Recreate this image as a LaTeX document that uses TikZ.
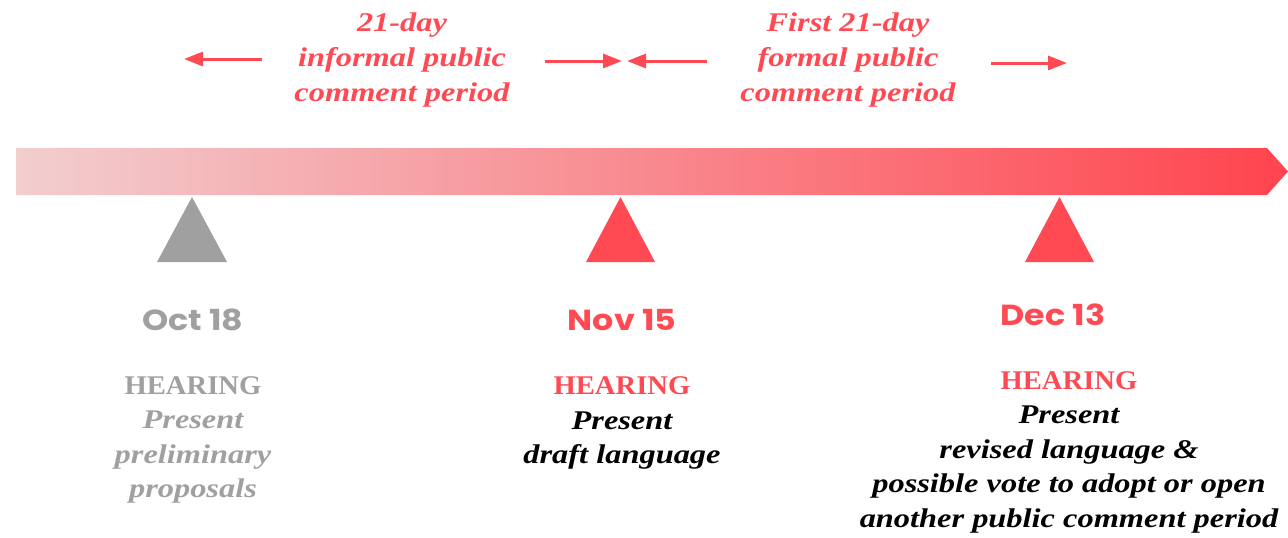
\documentclass[tikz,border=0pt]{standalone}
\usepackage{fontspec}
\setmainfont{Liberation Serif}
\newfontfamily\itfont[FakeStretch=1.2]{Liberation Serif}
\newfontfamily\upfont[FakeStretch=1.06]{Liberation Serif}
\newfontfamily\datefont[FakeStretch=1.15]{Poppins}
\usetikzlibrary{arrows.meta}
\definecolor{tred}{RGB}{255,74,84}
\definecolor{tgray}{RGB}{160,160,160}
\definecolor{barL}{RGB}{242,206,207}
\definecolor{barR}{RGB}{255,68,78}
\newcommand{\bi}{\itfont\bfseries\itshape}
\newcommand{\bu}{\upfont\bfseries}
\begin{document}
\begin{tikzpicture}[x=1pt,y=-1pt,
  lbl/.style={font=\fontsize{27}{35}\selectfont\bi, align=center, text=tred, inner sep=0pt},
  datestyle/.style={font=\datefont\fontsize{29}{34}\selectfont\bfseries, inner sep=0pt},
  desc/.style={font=\fontsize{27}{34.5}\selectfont, align=center, inner sep=0pt},
  arr/.style={draw=tred, line width=3pt, -{Triangle[length=19pt,width=14pt]}}
]
\useasboundingbox (0,0) rectangle (1288,538);
% timeline bar
\shade[left color=barL, right color=barR] (16,148) -- (1267,148) -- (1288,171.5) -- (1267,195) -- (16,195) -- cycle;
% markers
\fill[tgray] (192,197) -- (227,262) -- (157,262) -- cycle;
\fill[tred] (620.5,197) -- (655,262) -- (586,262) -- cycle;
\fill[tred] (1059.5,197) -- (1094,262) -- (1025,262) -- cycle;
% top labels
\node[lbl] (p1) at (402,60) {21-day\\informal public\\comment period};
\node[lbl] (p2) at (848,60) {First 21-day\\formal public\\comment period};
\coordinate (a1s) at (262,59); \coordinate (a1e) at (184,59);
\coordinate (a2s) at (545,61); \coordinate (a2e) at (622,61);
\coordinate (a3s) at (707,61); \coordinate (a3e) at (627,61);
\coordinate (a4s) at (991,63); \coordinate (a4e) at (1067,63);
\draw[arr] (a1s) -- (a1e);
\draw[arr] (a2s) -- (a2e);
\draw[arr] (a3s) -- (a3e);
\draw[arr] (a4s) -- (a4e);
% dates
\node[datestyle, text=tgray] (d1) at (193,320) {Oct 18};
\node[datestyle, text=tred] (d2) at (622,320) {Nov 15};
\node[datestyle, text=tred] (d3) at (1053,315) {Dec 13};
% descriptions
\node[desc, text=tgray] (t1) at (193,440) {{\bu HEARING}\\{\bi Present}\\{\bi preliminary}\\{\bi proposals}};
\node[desc] (t2) at (622,423) {{\bu\color{tred}HEARING}\\{\bi Present}\\{\bi draft language}};
\node[desc] (t3) at (1069,452) {{\bu\color{tred}HEARING}\\{\bi Present}\\{\bi revised language \&}\\{\bi possible vote to adopt or open}\\{\bi another public comment period}};
\end{tikzpicture}
\end{document}
